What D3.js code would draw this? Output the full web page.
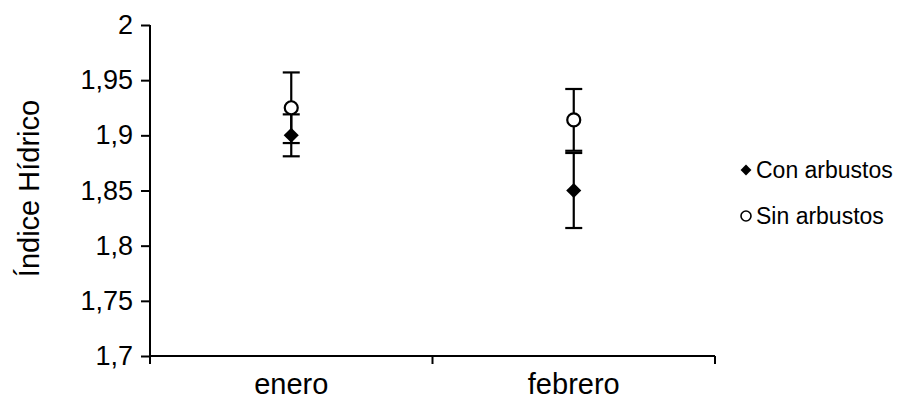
<!DOCTYPE html>
<html>
<head>
<meta charset="utf-8">
<script src="https://cdn.jsdelivr.net/npm/d3@7"></script>
<style>
  body { margin: 0; background: #fff; }
  text { font-family: "Liberation Sans", Arial, sans-serif; fill: #000; }
</style>
</head>
<body>
<div id="vis"></div>
<script>
const categories = ["enero", "febrero"];
const conValues = [1.900, 1.850];
const conErrors = [0.019, 0.034];
const sinValues = [1.925, 1.914];
const sinErrors = [0.032, 0.028];
const yTicks = [1.7, 1.75, 1.8, 1.85, 1.9, 1.95, 2];

const W = 903, H = 410;
const plot = { left: 150, right: 715, top: 25, bottom: 356 };

const svg = d3.select("#vis").append("svg")
  .attr("width", W)
  .attr("height", H);

const x = d3.scaleBand()
  .domain(categories)
  .range([plot.left, plot.right]);

const y = d3.scaleLinear()
  .domain([1.7, 2])
  .range([plot.bottom, plot.top]);

const fmt = d => String(+d.toFixed(2)).replace(".", ",");

// y axis
const yAxis = svg.append("g")
  .attr("transform", `translate(${plot.left},0)`)
  .call(d3.axisLeft(y).tickValues(yTicks).tickFormat(fmt).tickSize(9).tickPadding(8));
yAxis.select(".domain").attr("stroke-width", 2).attr("d", `M0,${plot.top}V${plot.bottom}`);
yAxis.selectAll(".tick line").attr("stroke-width", 2);
yAxis.selectAll(".tick text").attr("font-size", "27px");

// x axis
const xAxis = svg.append("g")
  .attr("transform", `translate(0,${plot.bottom})`)
  .call(d3.axisBottom(x).tickSize(0).tickPadding(17));
xAxis.select(".domain").attr("stroke-width", 2).attr("d", `M${plot.left},0H${plot.right}`);
xAxis.selectAll(".tick text").attr("font-size", "29px");

// x ticks at category boundaries
const bounds = [plot.left, ...categories.map(c => x(c) + x.bandwidth())];
svg.selectAll("line.xtick")
  .data(bounds)
  .join("line")
  .attr("class", "xtick")
  .attr("x1", d => d).attr("x2", d => d)
  .attr("y1", plot.bottom).attr("y2", plot.bottom + 8)
  .attr("stroke", "#000").attr("stroke-width", 2);

svg.selectAll("text").attr("font-family", "Liberation Sans, Arial, sans-serif");

// y label
svg.append("text")
  .attr("transform", `translate(39,${(plot.top + plot.bottom) / 2 - 2}) rotate(-90)`)
  .attr("text-anchor", "middle")
  .attr("font-size", "29px")
  .text("Índice Hídrico");

const cx = c => x(c) + x.bandwidth() / 2;
const capW = 8.5;

function errorBars(values, errors) {
  categories.forEach((c, i) => {
    const hi = y(values[i] + errors[i]);
    const lo = y(values[i] - errors[i]);
    const g = svg.append("g").attr("stroke", "#000").attr("stroke-width", 2.2);
    g.append("line").attr("x1", cx(c)).attr("x2", cx(c)).attr("y1", hi).attr("y2", lo);
    g.append("line").attr("x1", cx(c) - capW).attr("x2", cx(c) + capW).attr("y1", hi).attr("y2", hi);
    g.append("line").attr("x1", cx(c) - capW).attr("x2", cx(c) + capW).attr("y1", lo).attr("y2", lo);
  });
}

errorBars(conValues, conErrors);
errorBars(sinValues, sinErrors);

const diamond = d3.symbol().type(d3.symbolDiamond2);

// Con arbustos
svg.selectAll("path.con")
  .data(conValues)
  .join("path")
  .attr("class", "con")
  .attr("transform", (d, i) => `translate(${cx(categories[i])},${y(d)})`)
  .attr("d", diamond.size(145)())
  .attr("fill", "#000");

// Sin arbustos
svg.selectAll("circle.sin")
  .data(sinValues)
  .join("circle")
  .attr("class", "sin")
  .attr("cx", (d, i) => cx(categories[i]))
  .attr("cy", d => y(d))
  .attr("r", 6.5)
  .attr("fill", "#fff")
  .attr("stroke", "#000")
  .attr("stroke-width", 2.2);

// legend
const legend = svg.append("g");
legend.append("path")
  .attr("transform", "translate(746,170)")
  .attr("d", diamond.size(75)())
  .attr("fill", "#000");
legend.append("text")
  .attr("x", 756).attr("y", 178)
  .attr("font-size", "23px")
  .text("Con arbustos");
legend.append("circle")
  .attr("cx", 746).attr("cy", 216).attr("r", 5)
  .attr("fill", "#fff").attr("stroke", "#000").attr("stroke-width", 1.6);
legend.append("text")
  .attr("x", 756).attr("y", 224)
  .attr("font-size", "23px")
  .text("Sin arbustos");
</script>
</body>
</html>
